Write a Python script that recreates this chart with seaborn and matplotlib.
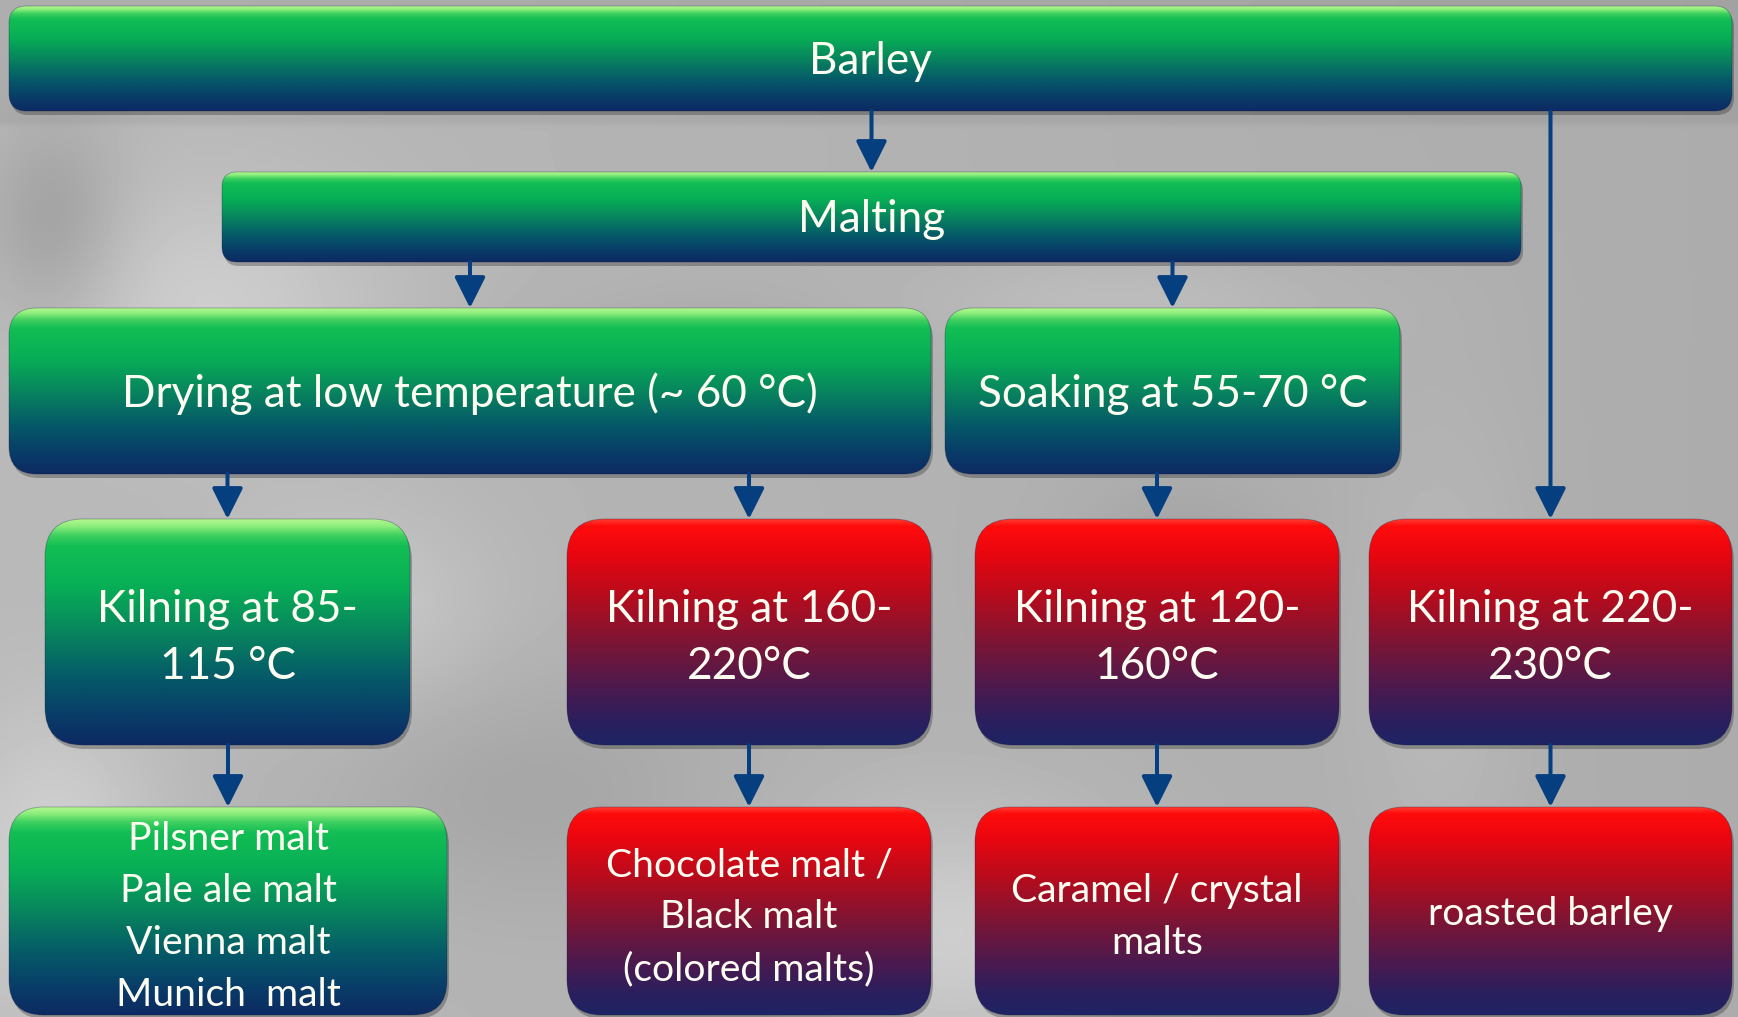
import numpy as np
import matplotlib
matplotlib.use("Agg")
import matplotlib.pyplot as plt
from matplotlib.patches import FancyBboxPatch
from matplotlib.colors import LinearSegmentedColormap
import seaborn as sns

# ---- flow chart content -------------------------------------------------
stage_labels = ["Barley", "Malting"]
treatment_labels = ["Drying at low temperature (~ 60 °C)", "Soaking at 55-70 °C"]
kilning_labels = ["Kilning at 85-\n115 °C", "Kilning at 160-\n220°C",
                  "Kilning at 120-\n160°C", "Kilning at 220-\n230°C"]
product_labels = ["Pilsner malt\nPale ale malt\nVienna malt\nMunich  malt",
                  "Chocolate malt /\nBlack malt\n(colored malts)",
                  "Caramel / crystal\nmalts",
                  "roasted barley"]
# heat class of each kilning branch: "low" boxes are green, "high" boxes red
kilning_heat = ["low", "high", "high", "high"]
# process links (source -> target)
links = [
    ("Barley", "Malting"),
    ("Barley", kilning_labels[3]),
    ("Malting", treatment_labels[0]),
    ("Malting", treatment_labels[1]),
    (treatment_labels[0], kilning_labels[0]),
    (treatment_labels[0], kilning_labels[1]),
    (treatment_labels[1], kilning_labels[2]),
    (kilning_labels[0], product_labels[0]),
    (kilning_labels[1], product_labels[1]),
    (kilning_labels[2], product_labels[2]),
    (kilning_labels[3], product_labels[3]),
]

# ---- layout (pixel grid of the canvas: x0, x1, y0, y1) -------------------
W, H = 1738, 1017
rows_y = [(6, 111), (172, 262), (308, 474), (519, 745), (807, 1015)]
geom = {
    "Barley": (9, 1732, *rows_y[0]),
    "Malting": (222, 1521, *rows_y[1]),
    treatment_labels[0]: (9, 931, *rows_y[2]),
    treatment_labels[1]: (945, 1400, *rows_y[2]),
}
for lab, (x0, x1) in zip(kilning_labels, [(45, 410), (567, 931), (975, 1339), (1369, 1732)]):
    geom[lab] = (x0, x1, *rows_y[3])
for lab, (x0, x1) in zip(product_labels, [(9, 447), (567, 931), (975, 1339), (1369, 1732)]):
    geom[lab] = (x0, x1, *rows_y[4])

# ---- styling --------------------------------------------------------------
sns.set_theme(style="white")
plt.rcParams["font.family"] = ["Lato", "DejaVu Sans"]

green_cmap = LinearSegmentedColormap.from_list("green_fill", [
    (0.00, "#b2f890"), (0.03, "#8cee7c"), (0.07, "#3fd060"), (0.12, "#12be54"),
    (0.30, "#07ae56"), (0.50, "#08855e"), (0.70, "#055a68"), (0.88, "#093b68"),
    (1.00, "#0d2a62")])
red_cmap = LinearSegmentedColormap.from_list("red_fill", [
    (0.00, "#ff3a30"), (0.03, "#ff0c0c"), (0.15, "#ea0610"), (0.35, "#b40c1e"),
    (0.55, "#7c1535"), (0.75, "#4b1a4f"), (0.90, "#2a1f5e"), (1.00, "#1e2464")])
arrow_color = "#063f7f"
text_color = "#fdfdf2"

heat = {lab: "low" for lab in stage_labels + treatment_labels}
heat.update(dict(zip(kilning_labels, kilning_heat)))
heat.update(dict(zip(product_labels, kilning_heat)))

fig = plt.figure(figsize=(W / 100, H / 100), dpi=100)
ax = fig.add_axes([0, 0, 1, 1])
ax.set_xlim(0, W)
ax.set_ylim(H, 0)
ax.axis("off")

# soft grey backdrop
gx, gy = np.meshgrid(np.linspace(0, 1, 348), np.linspace(0, 1, 204))
def blob(cx, cy, sx, sy, amp):
    return amp * np.exp(-(((gx - cx) / sx) ** 2 + ((gy - cy) / sy) ** 2))
bg = (172 + 12 * (1 - gx) - 10 * (gy < 0.12)
      + blob(0.12, 0.30, 0.10, 0.12, 22) + blob(0.03, 0.22, 0.04, 0.10, -25)
      + blob(0.20, 0.60, 0.08, 0.10, 18) + blob(0.30, 0.78, 0.12, 0.12, -14)
      + blob(0.55, 0.92, 0.10, 0.12, 28) + blob(0.03, 0.85, 0.06, 0.15, 25)
      + blob(0.68, 0.55, 0.06, 0.08, -12) + blob(0.83, 0.65, 0.05, 0.25, 10)
      + blob(0.40, 0.35, 0.10, 0.06, -10) + blob(0.65, 0.30, 0.12, 0.05, 12))
ax.imshow(bg, cmap="gray", vmin=0, vmax=255, extent=(0, W, H, 0),
          origin="upper", aspect="auto", interpolation="bicubic", zorder=0)

grad = np.linspace(0, 1, 512).reshape(-1, 1)


def draw_box(label, size, spacing):
    x0, x1, y0, y1 = geom[label]
    r = min(x1 - x0, y1 - y0) / 6.0
    style = f"round,pad=0,rounding_size={r}"
    shadow = FancyBboxPatch((x0 + 2, y0 + 4), x1 - x0, y1 - y0, boxstyle=style,
                            facecolor="black", edgecolor="none", alpha=0.25, zorder=1)
    ax.add_patch(shadow)
    frame = FancyBboxPatch((x0, y0), x1 - x0, y1 - y0, boxstyle=style,
                           facecolor="none", edgecolor="#0e1a40", lw=0.6, alpha=0.35, zorder=3)
    ax.add_patch(frame)
    cmap = green_cmap if heat[label] == "low" else red_cmap
    im = ax.imshow(grad, cmap=cmap, extent=(x0, x1, y1, y0), origin="upper",
                   aspect="auto", interpolation="bilinear", zorder=2)
    im.set_clip_path(frame)
    nudge = 3 if "\n" not in label else 6
    ax.text((x0 + x1) / 2, (y0 + y1) / 2 + nudge, label, ha="center", va="center",
            color=text_color, fontsize=size, linespacing=spacing, zorder=4)


for lab in stage_labels + treatment_labels + kilning_labels:
    draw_box(lab, 31.8, 1.50)
for lab in product_labels:
    draw_box(lab, 28.2, 1.55)

# connectors: drop from the source bottom to the target centre line
for src, dst in links:
    sx0, sx1, sy0, sy1 = geom[src]
    dx0, dx1, dy0, dy1 = geom[dst]
    xc = (dx0 + dx1) / 2
    ax.annotate("", xy=(xc, dy0), xytext=(xc, sy1),
                arrowprops=dict(arrowstyle="-|>,head_length=1.9,head_width=0.95",
                                color=arrow_color, lw=2.9, shrinkA=0, shrinkB=0,
                                mutation_scale=10),
                zorder=5)

fig.savefig("out.png", dpi=100)
